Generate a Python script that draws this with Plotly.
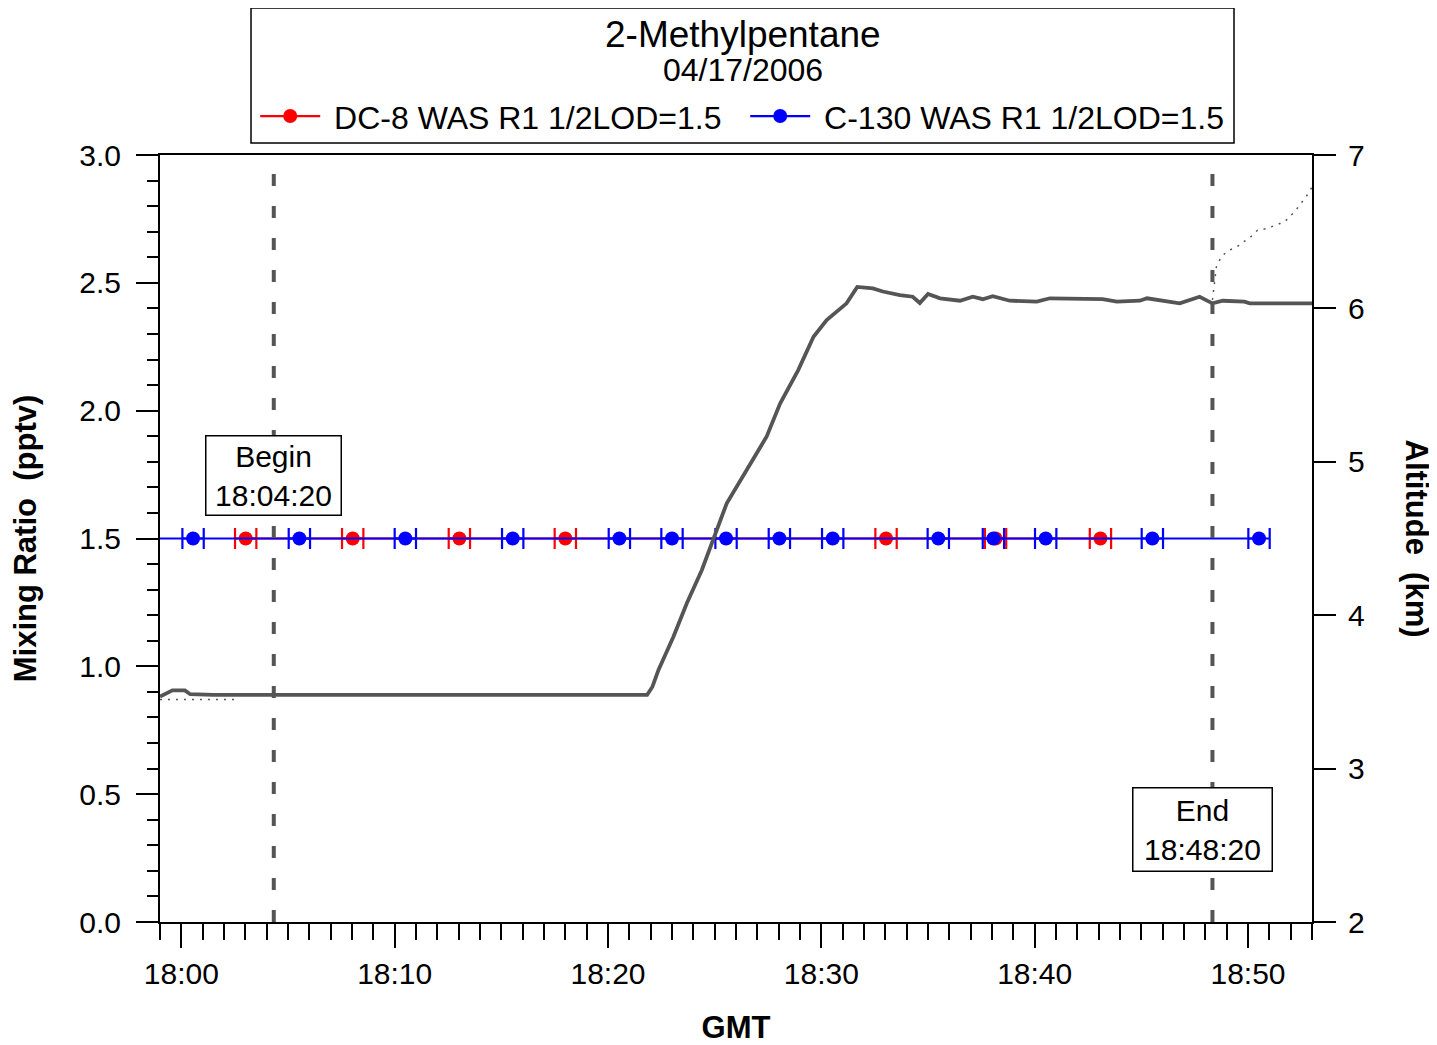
import plotly.graph_objects as go

FONT = "Liberation Sans, Arial, sans-serif"

# ---- data ----
dc8_times = ["18:03:01", "18:08:02", "18:13:02", "18:18:00", "18:33:02", "18:38:10", "18:43:05"]
dc8_vals = [1.5, 1.5, 1.5, 1.5, 1.5, 1.5, 1.5]

c130_times = ["18:00:33", "18:05:32", "18:10:30", "18:15:32", "18:20:32", "18:23:00", "18:25:32",
              "18:28:02", "18:30:32", "18:35:29", "18:38:04", "18:40:31", "18:45:31", "18:50:31"]
c130_vals = [1.5] * 14

sample_half_width_s = 30  # half duration of canister fill (s)

alt_times = ["17:59:00", "17:59:20", "17:59:35", "18:00:10", "18:00:25", "18:01:30", "18:03:30",
             "18:05:00", "18:05:40", "18:07:30", "18:09:00", "18:11:00", "18:12:30", "18:14:00",
             "18:16:00", "18:18:00", "18:20:00", "18:21:50", "18:22:05", "18:22:22", "18:23:04",
             "18:23:42", "18:24:24", "18:24:56", "18:25:34", "18:26:30", "18:27:26", "18:28:04",
             "18:28:55", "18:29:38", "18:30:15", "18:31:11", "18:31:41", "18:32:25", "18:32:53",
             "18:33:41", "18:34:17", "18:34:37", "18:35:00", "18:35:34", "18:36:30", "18:37:06",
             "18:37:34", "18:38:02", "18:38:50", "18:40:06", "18:40:43", "18:43:11", "18:43:51",
             "18:44:56", "18:45:16", "18:46:48", "18:47:44", "18:48:20", "18:48:49", "18:49:50",
             "18:50:05", "18:53:00"]
alt_km = [3.47, 3.49, 3.51, 3.51, 3.485, 3.48, 3.48,
          3.485, 3.48, 3.485, 3.48, 3.485, 3.48, 3.485,
          3.48, 3.485, 3.48, 3.48, 3.534, 3.643, 3.86,
          4.08, 4.295, 4.50, 4.73, 4.947, 5.164, 5.38,
          5.598, 5.815, 5.924, 6.033, 6.14, 6.13, 6.11,
          6.087, 6.076, 6.035, 6.094, 6.066, 6.05, 6.076,
          6.06, 6.08, 6.05, 6.044, 6.066, 6.06, 6.044,
          6.05, 6.066, 6.033, 6.076, 6.033, 6.05, 6.044,
          6.033, 6.033]

alt2_times = ["17:59:00", "18:02:30", None, "18:48:20", "18:48:31", "18:48:45", "18:49:08",
              "18:49:28", "18:49:50", "18:50:09", "18:50:27", "18:50:52", "18:51:15", "18:51:43",
              "18:52:11", "18:52:30", "18:52:44", "18:53:00"]
alt2_km = [3.45, 3.45, None, 6.055, 6.27, 6.34, 6.38,
           6.40, 6.435, 6.47, 6.51, 6.52, 6.54, 6.565,
           6.63, 6.685, 6.73, 6.79]

x_start, x_end = "17:59:00", "18:53:00"
begin_time, end_time = "18:04:20", "18:48:20"
end_box_time = "18:47:51"
tick_labels = ["18:00", "18:10", "18:20", "18:30", "18:40", "18:50"]


def mins(t):
    """minutes after 18:00 GMT"""
    if t is None:
        return None
    parts = [int(p) for p in t.split(":")]
    while len(parts) < 3:
        parts.append(0)
    h, m, s = parts
    return (h - 18) * 60 + m + s / 60.0


RED = "#ff0000"
BLUE = "#0000ff"
GRAY = "#555555"

fig = go.Figure()

err = dict(type="constant", value=sample_half_width_s / 60.0, thickness=2.2, width=10.5)

fig.add_trace(go.Scatter(
    x=[mins(t) for t in dc8_times], y=dc8_vals, mode="lines+markers",
    name="\u00a0DC-8 WAS R1 1/2LOD=1.5",
    line=dict(color=RED, width=2.2), marker=dict(color=RED, size=14),
    error_x=dict(err, color=RED),
))
# C-130 line continuing from before the plotted window
fig.add_trace(go.Scatter(
    x=[mins(x_start), mins(c130_times[0])], y=[c130_vals[0], c130_vals[0]], mode="lines",
    line=dict(color=BLUE, width=2.2), showlegend=False, hoverinfo="skip",
))
fig.add_trace(go.Scatter(
    x=[mins(t) for t in c130_times], y=c130_vals, mode="lines+markers",
    name="\u00a0C-130 WAS R1 1/2LOD=1.5",
    line=dict(color=BLUE, width=2.2), marker=dict(color=BLUE, size=14),
    error_x=dict(err, color=BLUE),
))

fig.add_trace(go.Scatter(
    x=[mins(t) for t in alt2_times], y=alt2_km, mode="lines", yaxis="y2",
    line=dict(color=GRAY, width=1.5, dash="2px,6px"), showlegend=False,
    connectgaps=False,
))
fig.add_trace(go.Scatter(
    x=[mins(t) for t in alt_times], y=alt_km, mode="lines", yaxis="y2",
    line=dict(color=GRAY, width=3.8), showlegend=False,
))

# Begin / End dashed lines
for t in (begin_time, end_time):
    fig.add_shape(type="line", xref="x", yref="paper", x0=mins(t), x1=mins(t), y0=0, y1=1,
                  line=dict(color=GRAY, width=4, dash="12px,20px"), layer="above")

# header box
fig.add_shape(type="rect", xref="paper", yref="paper", x0=0.079, x1=0.9323, y0=1.0156, y1=1.1917,
              line=dict(color="black", width=1.5), fillcolor="rgba(0,0,0,0)")

fig.add_annotation(text="2-Methylpentane", xref="paper", yref="paper", x=0.506, y=1.1575,
                   showarrow=False, font=dict(size=37, color="black", family=FONT),
                   xanchor="center", yanchor="middle")
fig.add_annotation(text="04/17/2006", xref="paper", yref="paper", x=0.506, y=1.1105,
                   showarrow=False, font=dict(size=32, color="black", family=FONT),
                   xanchor="center", yanchor="middle")

box_font = dict(size=30, color="black", family=FONT)
fig.add_annotation(text="Begin<br>18:04:20", x=mins(begin_time), y=1.745, xref="x", yref="y",
                   showarrow=False, font=box_font, bgcolor="white", bordercolor="black",
                   borderwidth=1.5, borderpad=1, width=132, height=76)
fig.add_annotation(text="End<br>18:48:20", x=mins(end_box_time), y=0.36, xref="x", yref="y",
                   showarrow=False, font=box_font, bgcolor="white", bordercolor="black",
                   borderwidth=1.5, borderpad=1, width=136, height=80)

fig.add_annotation(text="Altitude\u00a0\u00a0(km)", xref="paper", yref="paper",
                   x=1.0 + (1416 - 1312) / 1152, y=0.5, showarrow=False, textangle=90,
                   font=dict(size=31, color="black", family=FONT, weight="bold"),
                   xanchor="center", yanchor="middle")

tickfont = dict(size=30, color="black", family=FONT)

fig.update_layout(
    width=1429, height=1037,
    margin=dict(l=152, r=125, t=147, b=123, autoexpand=False),
    paper_bgcolor="white", plot_bgcolor="white",
    font=dict(family=FONT, color="black"),
    showlegend=True,
    legend=dict(orientation="h", x=0.508, y=1.0505, xanchor="center", yanchor="middle",
                font=dict(size=32, color="black", family=FONT), bgcolor="rgba(0,0,0,0)",
                itemwidth=60, traceorder="normal", entrywidth=415),
    xaxis=dict(
        range=[mins(x_start), mins(x_end)], automargin=False,
        tickvals=[mins(t) for t in tick_labels], ticktext=tick_labels,
        ticks="outside", ticklen=24, tickwidth=2, tickcolor="black",
        showline=True, linewidth=2, linecolor="black", mirror=True,
        showgrid=False, zeroline=False, tickfont=tickfont,
        minor=dict(dtick=1, tick0=0, ticks="outside", ticklen=16, tickwidth=2,
                   tickcolor="black", showgrid=False),
        title=dict(text="<b>GMT</b>", font=dict(size=31, color="black", family=FONT), standoff=28),
    ),
    yaxis=dict(
        range=[0, 3], dtick=0.5, tick0=0, tickformat=".1f", automargin=False,
        ticks="outside", ticklen=22, tickwidth=2, tickcolor="black",
        showline=True, linewidth=2, linecolor="black",
        showgrid=False, zeroline=False, tickfont=tickfont, ticklabelstandoff=9,
        minor=dict(dtick=0.1, ticks="outside", ticklen=11, tickwidth=2, tickcolor="black",
                   showgrid=False),
        title=dict(text="<b>Mixing Ratio\u00a0\u00a0(pptv)</b>",
                   font=dict(size=31, color="black", family=FONT), standoff=39),
    ),
    yaxis2=dict(
        range=[2, 7], dtick=1, tick0=2, overlaying="y", side="right", automargin=False,
        ticks="outside", ticklen=22, tickwidth=2, tickcolor="black",
        showline=True, linewidth=2, linecolor="black",
        showgrid=False, zeroline=False, tickfont=tickfont, ticklabelstandoff=6,
    ),
)

fig.write_html("out.html")
